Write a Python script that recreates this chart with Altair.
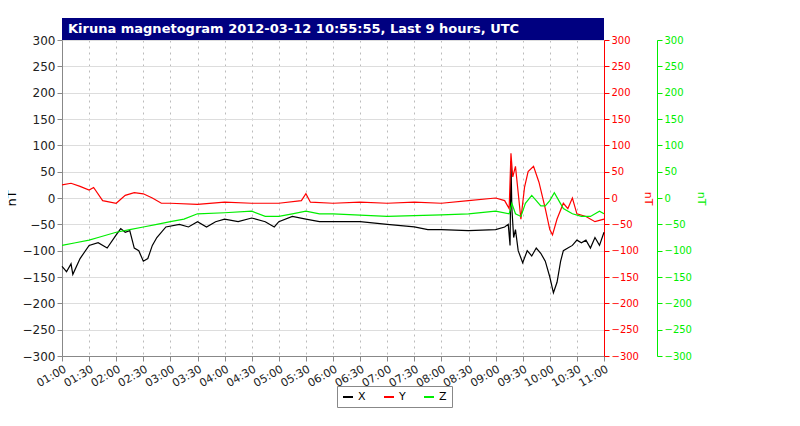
import pandas as pd
import altair as alt

# times as HH:MM on 2012-03-12, values in nT
x_times = ["01:00","01:05","01:10","01:12","01:20","01:30","01:40","01:50","02:00","02:05","02:10","02:15",
           "02:20","02:25","02:30","02:35","02:40","02:45","02:55","03:10","03:20","03:30","03:40","03:50",
           "04:00","04:15","04:30","04:45","04:55","05:00","05:15","05:30","05:45","06:00","06:30","07:00",
           "07:30","07:45","08:00","08:30","09:00","09:10","09:14","09:16","09:17","09:18","09:20","09:22",
           "09:25","09:30","09:35","09:40","09:45","09:50","09:55","10:00","10:04","10:08","10:12","10:15",
           "10:20","10:25","10:30","10:35","10:40","10:45","10:50","10:55","11:00"]
x_vals = [-130,-140,-125,-145,-115,-90,-85,-95,-70,-58,-65,-62,
          -95,-100,-120,-115,-90,-75,-55,-50,-55,-45,-55,-45,
          -40,-45,-38,-45,-55,-45,-35,-40,-45,-45,-45,-50,
          -55,-60,-60,-62,-60,-55,-50,-90,70,-20,-75,-60,
          -100,-123,-100,-110,-95,-105,-120,-150,-180,-160,-120,-100,
          -95,-90,-80,-85,-80,-95,-75,-90,-65]

y_times = ["01:00","01:10","01:20","01:30","01:35","01:45","02:00","02:10","02:20","02:30","02:40","02:50",
           "03:00","03:30","04:00","04:30","05:00","05:25","05:30","05:35","06:00","06:30","07:00","07:30",
           "08:00","08:30","09:00","09:10","09:15","09:17","09:19","09:22","09:25","09:28","09:32","09:36",
           "09:42","09:48","09:55","10:00","10:03","10:08","10:15","10:20","10:25","10:30","10:40","10:50","11:00"]
y_vals = [25,28,22,15,20,-5,-10,5,10,8,0,-10,
          -10,-12,-8,-10,-10,-5,8,-8,-10,-8,-10,-8,
          -10,-5,0,-5,-20,85,40,60,10,-40,20,50,
          60,30,-20,-60,-70,-40,-10,-20,0,-30,-35,-45,-40]

z_times = ["01:00","01:15","01:30","01:40","02:00","02:15","02:30","02:45","03:00","03:15","03:30","04:00",
           "04:30","04:45","05:00","05:15","05:30","05:45","06:00","07:00","08:00","08:30","09:00","09:15",
           "09:18","09:22","09:28","09:33","09:40","09:45","09:50","09:55","10:00","10:05","10:10","10:15",
           "10:25","10:35","10:45","10:55","11:00"]
z_vals = [-90,-85,-80,-75,-65,-60,-55,-50,-45,-40,-30,-28,
          -25,-35,-35,-30,-25,-30,-30,-35,-32,-30,-25,-30,
          -10,-30,-35,-10,5,-5,-15,-15,-5,10,-5,-20,
          -30,-35,-35,-25,-30]

def frame(times, vals, name):
    return pd.DataFrame({"t": pd.to_datetime(["2012-03-12 " + t for t in times]),
                         "v": vals, "s": name})

df = pd.concat([frame(x_times, x_vals, "X"), frame(y_times, y_vals, "Y"), frame(z_times, z_vals, "Z")])

W, H = 542, 316
ticks = [pd.Timestamp(f"2012-03-12 {h:02d}:{m:02d}").isoformat() for h in range(1, 12) for m in (0, 30) if not (h == 11 and m == 30)]
xenc = alt.X("t:T", title=None,
             scale=alt.Scale(domain=["2012-03-12T01:00:00", "2012-03-12T11:00:00"], nice=False),
             axis=alt.Axis(values=ticks, format="%H:%M", labelAngle=-30, gridDash=[2, 4], labelOverlap=False,
                           gridColor="#bbbbbb", labelFontSize=11, labelColor="#222"))
color = alt.Color("s:N", scale=alt.Scale(domain=["X", "Y", "Z"], range=["black", "red", "#00ee00"]),
                  legend=alt.Legend(title=None, orient="none", legendX=275, legendY=346, direction="horizontal",
                                    symbolType="stroke", strokeColor="#888", fillColor="white", padding=5,
                                    labelFontSize=11, symbolStrokeWidth=2, columnPadding=14))
yscale = alt.Scale(domain=[-300, 300], nice=False)
vals = list(range(-300, 301, 50))

def layer(name, axis):
    return alt.Chart(df).transform_filter(alt.datum.s == name).mark_line(strokeWidth=1.2).encode(
        x=xenc, y=alt.Y("v:Q", scale=yscale, axis=axis), color=color)

lx = layer("X", alt.Axis(title="nT", values=vals, titleFontSize=13, titleFontWeight="normal", labelFontSize=12,
                         titlePadding=4, gridColor="#dddddd", labelColor="#222"))
ly = layer("Y", alt.Axis(title="nT", orient="right", values=vals, grid=False, domainColor="red", tickColor="red",
                         labelColor="red", titleColor="red", titleFontWeight="normal", labelFontSize=10))
lz = layer("Z", alt.Axis(title="nT", orient="right", offset=53, values=vals, grid=False, domainColor="#00ee00",
                         tickColor="#00ee00", labelColor="#00ee00", titleColor="#00ee00", titleFontWeight="normal",
                         labelFontSize=10))

hdr = pd.DataFrame({"label": ["Kiruna magnetogram 2012-03-12 10:55:55, Last 9 hours, UTC"]})
bar = alt.Chart(hdr).mark_rect(color="#000080").encode(
    x=alt.value(0), x2=alt.value(W), y=alt.value(-22), y2=alt.value(0))
txt = alt.Chart(hdr).mark_text(color="white", fontWeight="bold", fontSize=13, align="left", baseline="middle").encode(
    x=alt.value(6), y=alt.value(-11), text="label:N")

chart = alt.layer(lx, ly, lz, bar, txt).resolve_scale(y="independent").properties(
    width=W, height=H, autosize=alt.AutoSizeParams(type="none"),
    padding={"left": 54, "top": 32, "right": 180, "bottom": 60}
).configure_view(stroke="#999").configure_axis(tickColor="#222", domainColor="#222").configure(font="DejaVu Sans")

chart.save("out.html", embed_options={"renderer": "svg", "actions": False})
